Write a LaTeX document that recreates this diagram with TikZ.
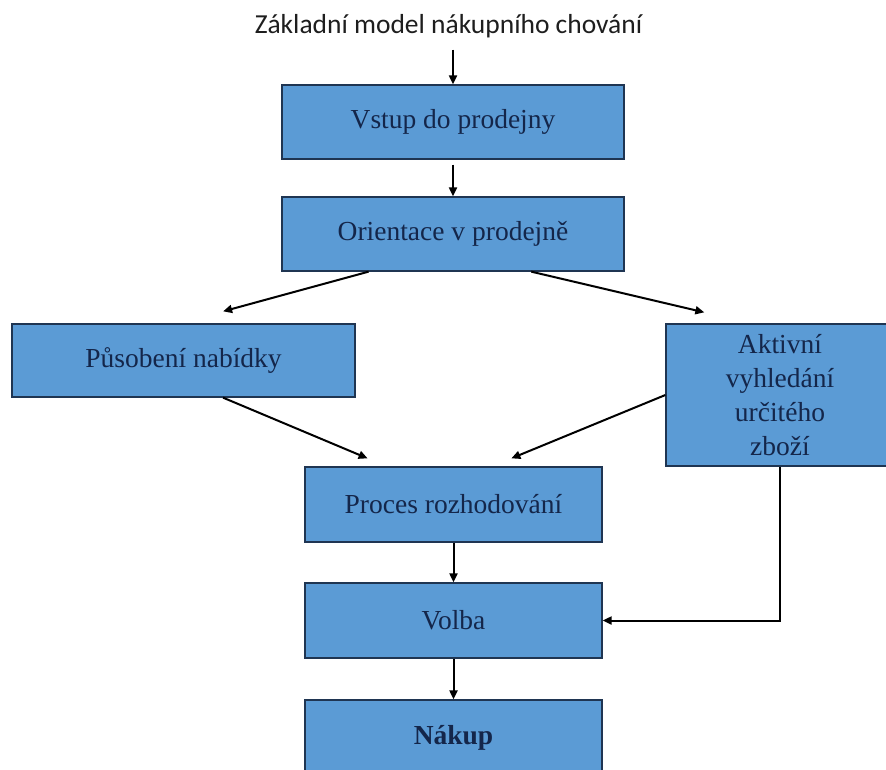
\documentclass[tikz,border=0pt]{standalone}
\usepackage{fontspec}
\setmainfont{Liberation Serif}
\newfontfamily\titlefont{Carlito}
\usetikzlibrary{arrows.meta,calc}

\definecolor{boxfill}{HTML}{5B9BD5}
\definecolor{boxline}{HTML}{1F3552}
\definecolor{boxtext}{HTML}{14264A}
\definecolor{titletext}{HTML}{1E1E1E}

\tikzset{
  stage/.style={draw=boxline, line width=1.3pt, fill=boxfill, text=boxtext,
    inner sep=0pt, align=center,
    font=\fontsize{27.5}{34}\selectfont},
  arr/.style={-{Triangle[length=9pt,width=8pt]}, line width=2pt, black},
}

\begin{document}
\begin{tikzpicture}[x=1pt, y=-1pt]
  \useasboundingbox (0,0) rectangle (886,769);
  \clip (0,0) rectangle (886,769);

  % heading
  \node[anchor=base, inner sep=0pt, text=titletext,
        font=\titlefont\fontsize{27.5}{32}\selectfont] (title) at (448.5,33)
        {Základní model nákupního chování};

  % process stages
  \node[stage, minimum width=342pt, minimum height=74pt] (b1) at (453,122) {Vstup do prodejny};
  \node[stage, minimum width=342pt, minimum height=74pt] (b2) at (453,234) {Orientace v prodejně};
  \node[stage, minimum width=343pt, minimum height=73pt] (b3) at (183.5,360.5) {Působení nabídky};
  \node[stage, minimum width=228pt, minimum height=142pt] (b4) at (780,395)
        {Aktivní\\vyhledání\\určitého\\zboží};
  \node[stage, minimum width=297pt, minimum height=75pt] (b5) at (453.5,504.5) {Proces rozhodování};
  \node[stage, minimum width=297pt, minimum height=75pt] (b6) at (453.5,620.5) {Volba};
  \node[stage, minimum width=297pt, minimum height=75pt] (b7) at (453.5,737.5) {\textbf{Nákup}};

  % connectors
  \draw[arr, shorten <=12pt] (b1.north |- title.south) -- (b1.north);
  \draw[arr, shorten <=5pt] (b1.south) -- (b2.north);
  \draw[arr] ($(b2.south west)!0.254!(b2.south east)$)
          -- ($(b3.north west)!0.615!(b3.north east)+(0,-12)$);
  \draw[arr] ($(b2.south west)!0.728!(b2.south east)$)
          -- ($(b4.north west)!0.17!(b4.north east)+(0,-11)$);
  \draw[arr] ($(b3.south west)!0.615!(b3.south east)$)
          -- ($(b5.north west)!0.212!(b5.north east)+(0,-8)$);
  \draw[arr] (b4.west)
          -- ($(b5.north west)!0.694!(b5.north east)+(0,-8)$);
  \draw[arr] (b5.south) -- (b6.north);
  \draw[arr] (b4.south) |- (b6.east);
  \draw[arr] (b6.south) -- (b7.north);
\end{tikzpicture}
\end{document}
